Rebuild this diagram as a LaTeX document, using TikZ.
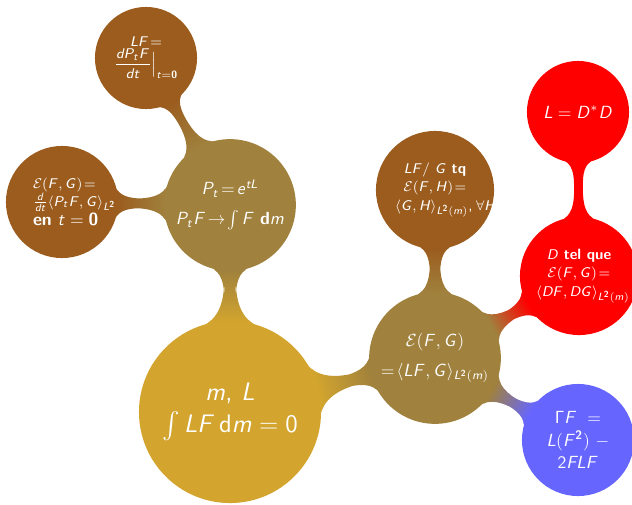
\documentclass[tikz,border=0pt]{standalone}
\usepackage{amsmath,amssymb}
\usetikzlibrary{mindmap}
% sans-serif math: slanted sans letters, upright sans digits
\DeclareSymbolFont{sfslant}{OT1}{cmss}{m}{sl}
\DeclareSymbolFont{sfupright}{OT1}{cmss}{m}{n}
\DeclareMathAlphabet{\mathsfbf}{OT1}{cmss}{bx}{n}
\DeclareMathSymbol{\Gamma}{\mathalpha}{sfupright}{"00}
\newcount\mcidx
\mcidx=65
\loop
  \mathcode\mcidx=\numexpr "7000+\symsfslant*"100+\mcidx\relax
  \advance\mcidx by 1
\ifnum\mcidx<91 \repeat
\mcidx=97
\loop
  \mathcode\mcidx=\numexpr "7000+\symsfslant*"100+\mcidx\relax
  \advance\mcidx by 1
\ifnum\mcidx<123 \repeat
\mcidx=48
\loop
  \mathcode\mcidx=\numexpr "7000+\symsfupright*"100+\mcidx\relax
  \advance\mcidx by 1
\ifnum\mcidx<58 \repeat
\definecolor{rootgold}{RGB}{211,165,46}
\definecolor{olive}{RGB}{160,129,61}
\definecolor{rust}{RGB}{155,92,30}
\definecolor{vivid}{RGB}{255,0,0}
\definecolor{periw}{RGB}{102,102,255}
\tikzset{
  bubble/.style={concept, inner sep=0pt, align=flush center, text=white},
  big/.style={font=\sffamily\fontsize{15}{18}\selectfont},
  mid/.style={font=\sffamily\fontsize{10}{13}\selectfont},
  tiny/.style={font=\sffamily\fontsize{8}{10}\selectfont},
  small/.style={font=\sffamily\fontsize{8.5}{10.5}\selectfont},
  bar/.style={line width=0.23cm},
}
\begin{document}
\begin{tikzpicture}[x=0.02cm,y=-0.02cm,mindmap]
\useasboundingbox (0,0) rectangle (632,504);

% central concept
\node[bubble,big,concept color=rootgold,minimum size=3.6cm,text width=3cm]
  (root) at (230,412) {$m$, $L$\\ $\int LF\,\mathsf{d}m=0$};

% semigroup branch
\node[bubble,mid,concept color=olive,minimum size=2.48cm,text width=2.4cm]
  (semi) at (230,205) {$P_t\!=\!e^{tL}$\\[4pt] $P_tF\!\to\!\int F\ \mathsfbf{d}m$};
\node[bubble,tiny,concept color=rust,minimum size=2cm,text width=1.6cm]
  (gen) at (146,58) {$LF\!=$\\ $\dfrac{dP_tF}{dt}\Big|_{t=\mathsfbf{0}}$};
\node[bubble,tiny,concept color=rust,minimum size=2.2cm,text width=1.16cm]
  (deriv) at (62,202) {$\mathcal{E}(F,G)\!=$\\ $\frac{d}{dt}\langle P_tF,G\rangle_{L^{\mathsfbf{2}}}$\\ \mbox{\fontsize{10}{12}\selectfont\textbf{en} $t=\mathsfbf{0}$}};

% Dirichlet form branch
\node[bubble,mid,concept color=olive,minimum size=2.56cm,text width=2.4cm]
  (form) at (435,358) {$\mathcal{E}(F,G)$\\[4pt] $=\!\langle LF,G\rangle_{L^{\mathsfbf{2}}(m)}$};
\node[bubble,small,concept color=rust,minimum size=2.32cm,text width=1.6cm]
  (weak) at (435,190) {$LF/\ G$ \textbf{tq}\\ $\mathcal{E}(F,H)\!=$\\ $\langle G,H\rangle_{L^{\mathsfbf{2}}(m)}$,~$\forall H$};
\node[bubble,small,concept color=vivid,minimum size=2.32cm,text width=1.72cm]
  (grad) at (579,276) {$D$ \textbf{tel que}\\ $\mathcal{E}(F,G)\!=$\\ $\langle DF,DG\rangle_{L^{\mathsfbf{2}}(m)}$};
\node[bubble,mid,concept color=vivid,minimum size=2cm,text width=1.6cm]
  (adj) at (578,112) {$L=D^*D$};
\node[bubble,mid,concept color=periw,minimum size=2.2cm,text width=1.5cm]
  (carre) at (578,440) {$\Gamma F\ =$\\ $L(F^{\mathsfbf{2}})\ -$\\ $2FLF$};

% connection bars
\path[bar] (root) to[circle connection bar switch color=from (rootgold) to (olive)] (semi);
\path[bar] (semi) to[circle connection bar switch color=from (olive) to (rust)] (gen);
\path[bar] (semi) to[circle connection bar switch color=from (olive) to (rust)] (deriv);
\path[bar] (root) to[circle connection bar switch color=from (rootgold) to (olive)] (form);
\path[bar] (form) to[circle connection bar switch color=from (olive) to (rust)] (weak);
\path[bar] (form) to[circle connection bar switch color=from (olive) to (vivid)] (grad);
\path[bar] (grad) to[circle connection bar switch color=from (vivid) to (vivid)] (adj);
\path[bar] (form) to[circle connection bar switch color=from (olive) to (periw)] (carre);
\end{tikzpicture}
\end{document}
